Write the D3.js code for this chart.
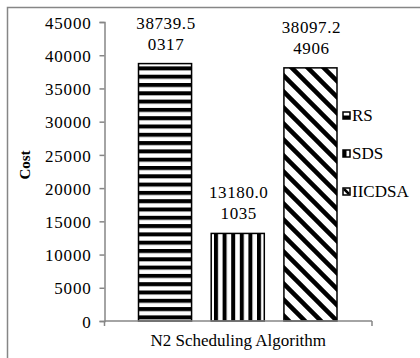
<!DOCTYPE html>
<html>
<head>
<meta charset="utf-8">
<script src="https://cdn.jsdelivr.net/npm/d3@7"></script>
<style>
  body { margin: 0; background: #fff; }
</style>
</head>
<body>
<div id="chart"></div>
<script>
// data
const categories = ["N2 Scheduling Algorithm"];
const series = ["RS", "SDS", "IICDSA"];
const values = [38739.50317, 13180.01035, 38097.24906];
const valueLabels = ["38739.50317", "13180.01035", "38097.24906"];
const yTicks = [0, 5000, 10000, 15000, 20000, 25000, 30000, 35000, 40000, 45000];

const FONT = '"Liberation Serif"';

function init() {
  const width = 420, height = 358;
  const axisColor = "#868686";

  const svg = d3.select("#chart").append("svg")
    .attr("width", width)
    .attr("height", height);

  // fill patterns, one per series
  const defs = svg.append("defs");
  const pRS = defs.append("pattern").attr("id", "p-RS")
    .attr("patternUnits", "userSpaceOnUse").attr("width", 8).attr("height", 8.3);
  pRS.append("rect").attr("width", 8).attr("height", 8.3).attr("fill", "#fff");
  pRS.append("rect").attr("y", 0).attr("width", 8).attr("height", 4).attr("fill", "#000");

  const pSDS = defs.append("pattern").attr("id", "p-SDS")
    .attr("patternUnits", "userSpaceOnUse").attr("width", 8.6).attr("height", 8).attr("x", 214);
  pSDS.append("rect").attr("width", 8.6).attr("height", 8).attr("fill", "#fff");
  pSDS.append("rect").attr("x", 0).attr("width", 4).attr("height", 8).attr("fill", "#000");

  const pII = defs.append("pattern").attr("id", "p-IICDSA")
    .attr("patternUnits", "userSpaceOnUse").attr("width", 16).attr("height", 16);
  pII.append("rect").attr("width", 16).attr("height", 16).attr("fill", "#fff");
  pII.append("path").attr("d", "M-4,-4 L20,20 M-4,12 L4,20 M12,-4 L20,4")
    .attr("stroke", "#000").attr("stroke-width", 4.5);

  // outer frame (runs past the picture on the right and bottom)
  svg.append("rect")
    .attr("x", 7.5).attr("y", 7.5)
    .attr("width", 500).attr("height", 500)
    .attr("fill", "none")
    .attr("stroke", axisColor)
    .attr("stroke-width", 1.5);

  const left = 104.5, right = 372, top = 22, bottom = 321;

  const y = d3.scaleLinear().domain([0, 45000]).range([bottom, top]);
  const x0 = d3.scaleBand().domain(categories).range([left, right]);
  const x1 = d3.scaleBand().domain(series)
    .range([x0(categories[0]) + 34, x0(categories[0]) + x0.bandwidth() - 35])
    .paddingInner(0.27);

  // y axis
  const yAxis = svg.append("g")
    .attr("transform", `translate(${left},0)`)
    .call(d3.axisLeft(y).tickValues(yTicks).tickSize(5).tickPadding(9).tickFormat(d3.format("d")));
  yAxis.select(".domain").attr("stroke", axisColor).attr("stroke-width", 1.5);
  yAxis.selectAll(".tick line").attr("stroke", axisColor).attr("stroke-width", 1.5);
  yAxis.selectAll(".tick text")
    .attr("x", -13)
    .attr("dy", "0.36em")
    .style("font-family", FONT)
    .style("font-size", "17px")
    .style("letter-spacing", "0.8px")
    .attr("fill", "#000");

  // bars
  svg.selectAll("rect.bar")
    .data(series)
    .join("rect")
    .attr("class", "bar")
    .attr("x", d => x1(d))
    .attr("y", (d, i) => y(values[i]))
    .attr("width", x1.bandwidth())
    .attr("height", (d, i) => bottom - y(values[i]))
    .attr("fill", d => `url(#p-${d})`)
    .attr("stroke", "#000")
    .attr("stroke-width", 1.5);

  // x axis (drawn after bars so it sits on top)
  svg.append("line")
    .attr("x1", left).attr("x2", right)
    .attr("y1", bottom).attr("y2", bottom)
    .attr("stroke", axisColor).attr("stroke-width", 1.5);
  [left, right].forEach(px => {
    svg.append("line")
      .attr("x1", px).attr("x2", px)
      .attr("y1", bottom).attr("y2", bottom + 5)
      .attr("stroke", axisColor).attr("stroke-width", 1.5);
  });

  // value labels, wrapped onto two lines like the original
  series.forEach((s, i) => {
    const cx = x1(s) + x1.bandwidth() / 2 + 1;
    const base = y(values[i]) - 14;
    const lab = valueLabels[i];
    const t = svg.append("text")
      .attr("text-anchor", "middle")
      .style("font-family", FONT)
      .style("font-size", "17px")
      .style("letter-spacing", "0.6px");
    t.append("tspan").attr("x", cx).attr("y", base - 21).text(lab.slice(0, 7));
    t.append("tspan").attr("x", cx).attr("y", base).text(lab.slice(7));
  });

  // axis titles
  svg.append("text")
    .attr("x", (left + right) / 2)
    .attr("y", 346)
    .attr("text-anchor", "middle")
    .style("font-family", FONT)
    .style("font-size", "17px")
    .text(categories[0]);

  svg.append("text")
    .attr("transform", `translate(30,165) rotate(-90)`)
    .attr("text-anchor", "middle")
    .style("font-family", FONT)
    .style("font-size", "15px")
    .style("font-weight", "bold")
    .text("Cost");

  // legend
  const legend = svg.append("g").attr("transform", "translate(343,112)");
  series.forEach((s, i) => {
    const g = legend.append("g").attr("transform", `translate(0,${i * 38})`);
    g.append("rect")
      .attr("width", 7).attr("height", 7)
      .attr("fill", "#fff").attr("stroke", "#000").attr("stroke-width", 1.5);
    if (s === "RS") g.append("rect").attr("x", 0).attr("y", 3.5).attr("width", 7).attr("height", 3.5).attr("fill", "#000");
    if (s === "SDS") g.append("rect").attr("x", 0).attr("y", 0).attr("width", 3.5).attr("height", 7).attr("fill", "#000");
    if (s === "IICDSA") g.append("path").attr("d", "M1,1 L6,6").attr("stroke", "#000").attr("stroke-width", 2.5);
    g.append("text")
      .attr("x", 9).attr("y", 9)
      .style("font-family", FONT)
      .style("font-size", "17px")
      .text(s);
  });
}

window.onload = init;
</script>
</body>
</html>
